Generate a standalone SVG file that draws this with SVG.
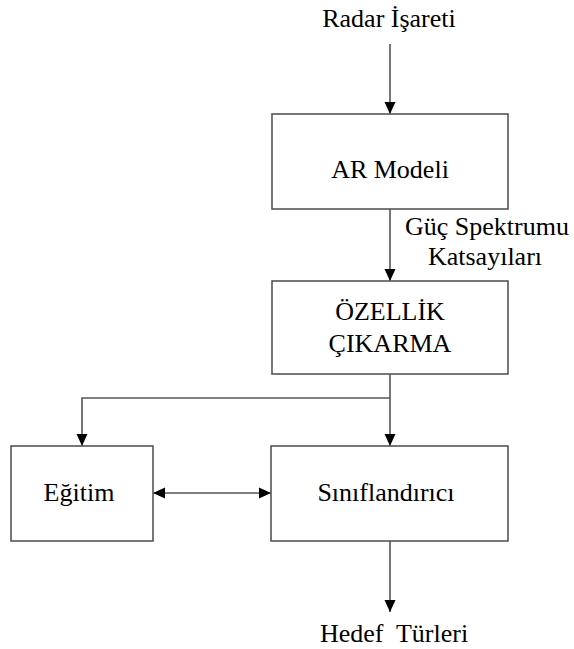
<svg xmlns="http://www.w3.org/2000/svg" width="574" height="649" viewBox="0 0 574 649">
<style>
.box{fill:#fff;stroke:#555;stroke-width:1.6}
.ln{fill:none;stroke:#555;stroke-width:1.6}
.t{font-family:"Liberation Serif","Times New Roman",serif;font-size:26px;fill:#000;text-anchor:middle;white-space:pre}
</style>
<defs>
<marker id="ah" markerUnits="userSpaceOnUse" markerWidth="12" markerHeight="12" viewBox="0 0 12 12" refX="12" refY="6" orient="auto-start-reverse">
<path d="M0,0.5 L12,6 L0,11.5 Z" fill="#000"/>
</marker>
</defs>
<rect width="574" height="649" fill="#fff"/>
<g id="connectors">
<line class="ln" x1="390" y1="44" x2="390" y2="114" marker-end="url(#ah)"/>
<line class="ln" x1="390" y1="209" x2="390" y2="281" marker-end="url(#ah)"/>
<polyline class="ln" points="390,374 390,446" marker-end="url(#ah)"/>
<polyline class="ln" points="390,398 82,398 82,446" marker-end="url(#ah)"/>
<line class="ln" x1="153" y1="493" x2="271" y2="493" marker-start="url(#ah)" marker-end="url(#ah)"/>
<line class="ln" x1="390" y1="541" x2="390" y2="612" marker-end="url(#ah)"/>
</g>
<g id="input"><text class="t" x="389" y="27">Radar İşareti</text></g>
<g id="ar-model">
<rect class="box" x="272" y="114" width="236" height="95"/>
<text class="t" x="390" y="178">AR Modeli</text>
</g>
<g id="spectrum-label">
<text class="t" x="487" y="235">Güç Spektrumu</text>
<text class="t" x="485" y="265">Katsayıları</text>
</g>
<g id="feature">
<rect class="box" x="272" y="281" width="236" height="93"/>
<text class="t" x="390" y="320">ÖZELLİK</text>
<text class="t" x="390" y="352">ÇIKARMA</text>
</g>
<g id="training">
<rect class="box" x="11" y="446" width="142" height="95"/>
<text class="t" x="79" y="501">Eğitim</text>
</g>
<g id="classifier">
<rect class="box" x="271" y="446" width="237" height="95"/>
<text class="t" x="386" y="501">Sınıflandırıcı</text>
</g>
<g id="output"><text class="t" x="394" y="642">Hedef  Türleri</text></g>
</svg>
